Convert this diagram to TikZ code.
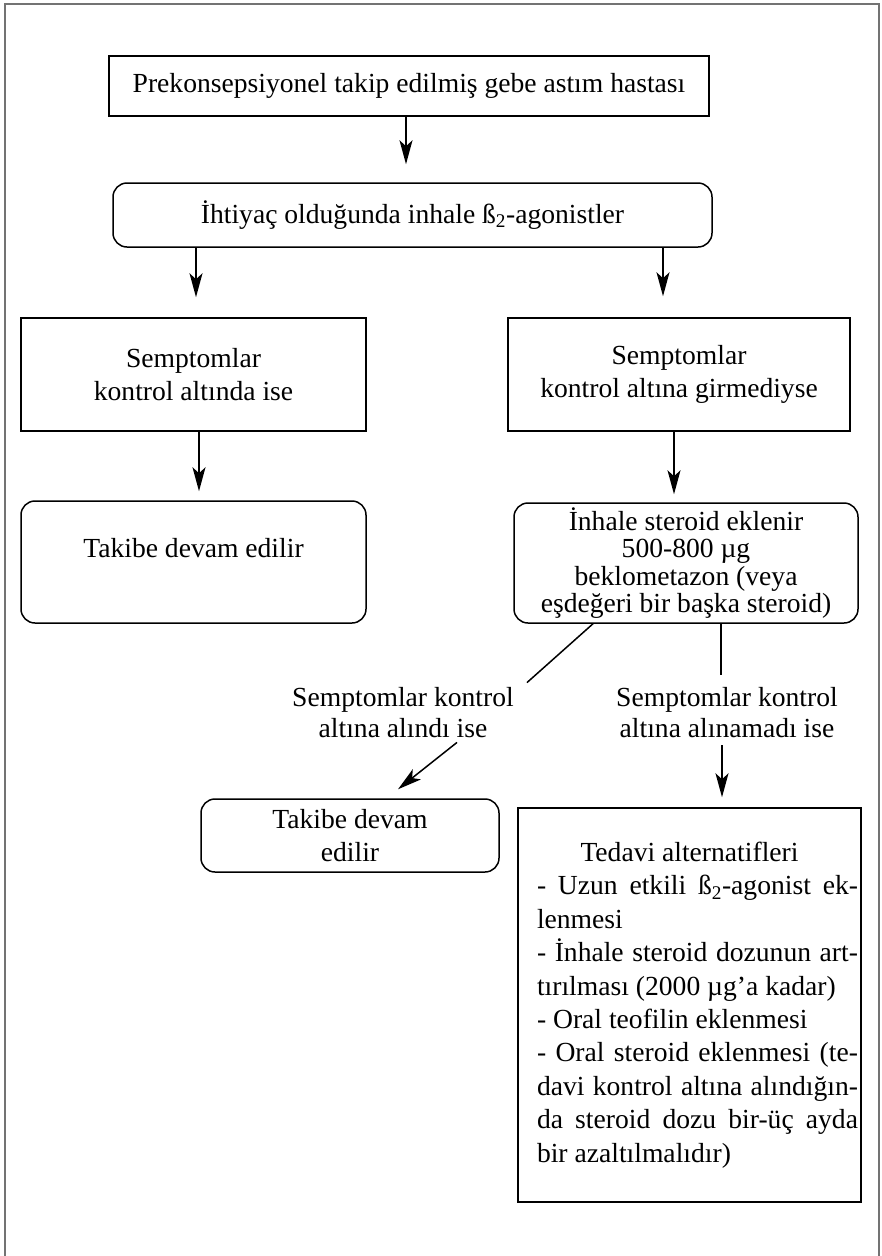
\documentclass[tikz,border=0pt]{standalone}
\usepackage{fontspec}
\setmainfont{Liberation Serif}
\usetikzlibrary{arrows.meta,calc}
\begin{document}
\begin{tikzpicture}[x=1pt,y=-1pt,
  every node/.style={font=\fontsize{27.6}{33}\selectfont, inner sep=0pt},
  box/.style={draw, line width=1.5pt, align=center},
  rbox/.style={box, rounded corners=14pt},
  arr/.style={line width=1.5pt, -{Stealth[length=24pt,width=13pt,inset=6pt]}},
  ln/.style={line width=1.5pt},
  frameline/.style={draw=black!55, line width=1.4pt}]
\useasboundingbox (0,0) rectangle (882,1256);
\draw[frameline] (5,1256) -- (5,4) -- (879,4) -- (879,1256);

\node[box, minimum width=600pt, minimum height=60pt] (b1) at (409,86)
  {Prekonsepsiyonel takip edilmiş gebe astım hastası};
\node[rbox, minimum width=599pt, minimum height=64pt] (b2) at (412.5,215)
  {İhtiyaç olduğunda inhale ß\textsubscript{2}-agonistler};
\node[box, minimum width=345pt, minimum height=113pt] (b3) at (193.5,374.5)
  {Semptomlar\\kontrol altında ise};
\node[box, minimum width=342pt, minimum height=113pt] (b4) at (679,374.5)
  {Semptomlar\\kontrol altına girmediyse};
\node[rbox, minimum width=345pt, minimum height=122pt, text height=19pt, text depth=29pt] (b5) at (193.5,562)
  {Takibe devam edilir};
\node[rbox, minimum width=344pt, minimum height=120pt, font=\fontsize{27.6}{27.3}\selectfont] (b6) at (686,563)
  {İnhale steroid eklenir\\500-800 µg\\beklometazon (veya\\eşdeğeri bir başka steroid)};
\node[rbox, minimum width=298pt, minimum height=73pt] (b7) at (350,835.5)
  {Takibe devam\\edilir};
\node[box, minimum width=343pt, minimum height=394pt, align=left] (b8) at (689.5,1005)
  {\hspace*{16pt}\parbox{321pt}{\fontsize{27.6}{33.4}\selectfont
  \makebox[321pt][c]{Tedavi alternatifleri\hspace*{16pt}}\\
  \makebox[321pt][s]{- Uzun etkili ß\textsubscript{2}-agonist ek-}\\
  lenmesi\\
  \makebox[321pt][s]{- İnhale steroid dozunun art-}\\
  tırılması (2000 µg'a kadar)\\
  - Oral teofilin eklenmesi\\
  \makebox[321pt][s]{- Oral steroid eklenmesi (te-}\\
  \makebox[321pt][s]{davi kontrol altına alındığın-}\\
  \makebox[321pt][s]{da steroid dozu bir-üç ayda}\\
  bir azaltılmalıdır)}};

\node[align=center, font=\fontsize{27.6}{31}\selectfont] (l1) at (403,713)
  {Semptomlar kontrol\\altına alındı ise};
\node[align=center, font=\fontsize{27.6}{31}\selectfont] (l2) at (727,713)
  {Semptomlar kontrol\\altına alınamadı ise};

\coordinate (a1) at ($(b1.south)+(-3,0)$);
\draw[arr, shorten >=18pt] (a1) -- (a1 |- b2.north);
\coordinate (a2) at ($(b3.north |- b2.south)+(2.5,0)$);
\draw[arr, shorten >=20pt] (a2) -- (a2 |- b3.north);
\coordinate (a3) at ($(b4.north |- b2.south)+(-16,0)$);
\draw[arr, shorten >=21pt] (a3) -- (a3 |- b4.north);
\coordinate (a4) at ($(b3.south)+(5.5,0)$);
\draw[arr, shorten >=9pt] (a4) -- (a4 |- b5.north);
\coordinate (a5) at ($(b4.south)+(-5,0)$);
\draw[arr, shorten >=8pt] (a5) -- (a5 |- b6.north);

\coordinate (c1) at ($(b6.south)+(-93,0)$);
\coordinate (c2) at ($(l1.north east)+(13,-5)$);
\draw[ln] (c1) -- (c2);
\coordinate (c3) at ($(l1.south)+(54,4)$);
\coordinate (c4) at ($(b7.north)+(48,-9)$);
\draw[arr] (c3) -- (c4);

\coordinate (c5) at ($(b6.south)+(35,0)$);
\draw[ln, shorten >=13pt] (c5) -- (c5 |- l2.north);
\coordinate (c6) at ($(b8.north)+(32.5,0)$);
\draw[arr, shorten <=7pt, shorten >=10pt] (c6 |- l2.south) -- (c6);
\end{tikzpicture}
\end{document}
